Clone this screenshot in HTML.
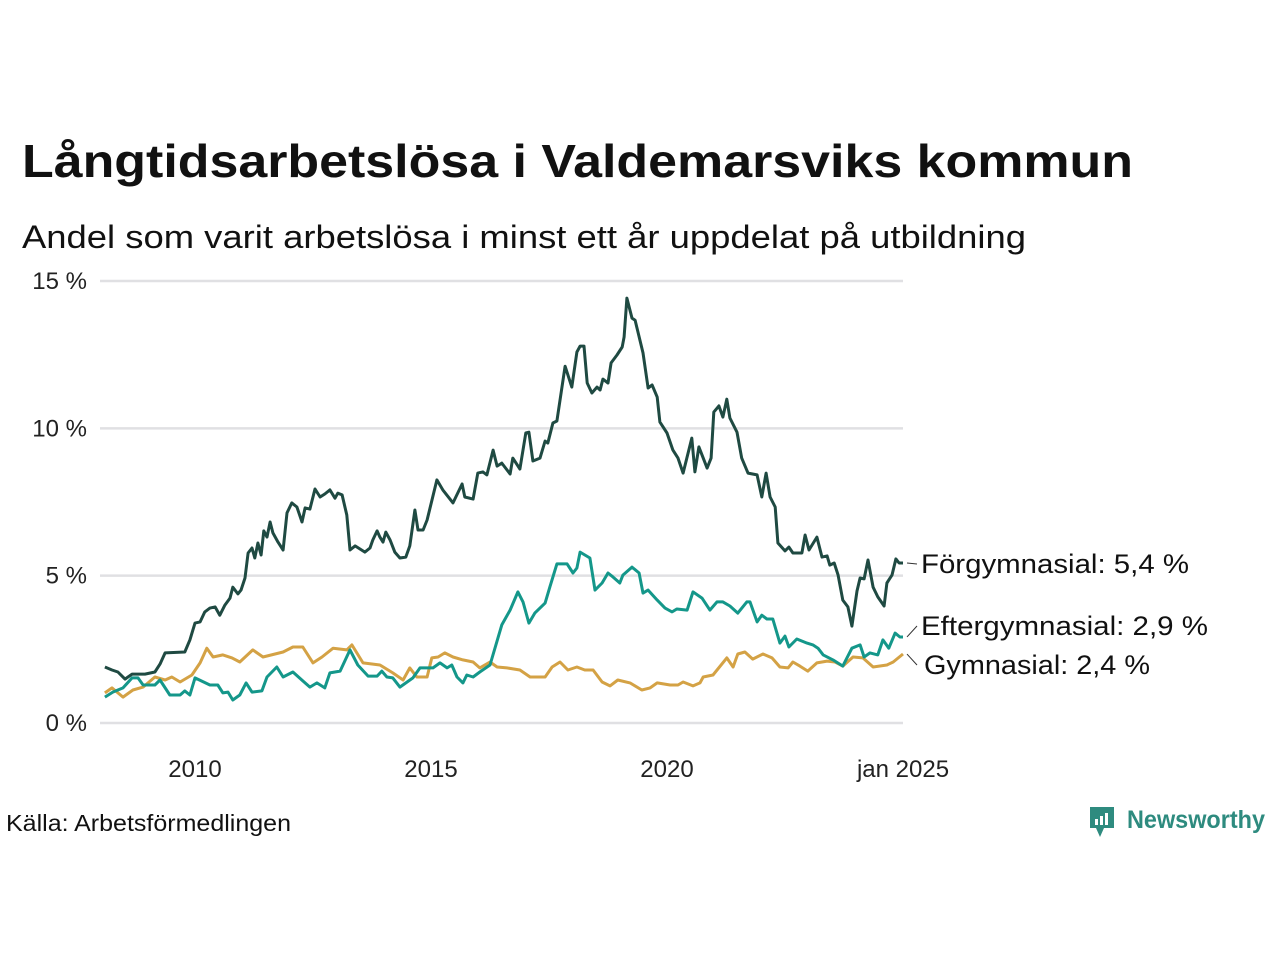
<!DOCTYPE html>
<html><head><meta charset="utf-8"><style>
html,body{margin:0;padding:0;background:#fff;}
svg{display:block;font-family:"Liberation Sans","DejaVu Sans",sans-serif;}
</style></head><body>
<svg id="chart" width="1280" height="960" viewBox="0 0 1280 960">
<text x="22" y="177" font-size="46" font-weight="bold" fill="#111" textLength="1111" lengthAdjust="spacingAndGlyphs">Långtidsarbetslösa i Valdemarsviks kommun</text>
<text x="22" y="248" font-size="32" fill="#111" textLength="1004" lengthAdjust="spacingAndGlyphs">Andel som varit arbetslösa i minst ett år uppdelat på utbildning</text>
<g id="grid"></g>
<g id="yticks"></g>
<g id="xticks"></g>
<g id="lines"></g>
<g id="labels"></g>
<text x="6" y="831" font-size="23" fill="#111" textLength="285" lengthAdjust="spacingAndGlyphs">Källa: Arbetsförmedlingen</text>
<g>
<path d="M1090 807 h24 v21 h-10 l-4 9 l-4 -9 h-6 z" fill="#2e8b7f"/>
<rect x="1095" y="819" width="3" height="6" fill="#fff"/><rect x="1100" y="816" width="3" height="9" fill="#fff"/><rect x="1105" y="813" width="3" height="12" fill="#fff"/>
<text x="1127" y="828" font-size="25" font-weight="bold" fill="#2e8b7f" textLength="138" lengthAdjust="spacingAndGlyphs">Newsworthy</text>
</g>
</svg>
<script>
const yTicks = [0, 5, 10, 15];
const yTickLabels = ["0 %", "5 %", "10 %", "15 %"];
const xTicks = [2010, 2015, 2020, 2025];
const xTickLabels = ["2010", "2015", "2020", "jan 2025"];
const seriesNames = ["Förgymnasial", "Eftergymnasial", "Gymnasial"];
const lastLabels = ["Förgymnasial: 5,4 %", "Eftergymnasial: 2,9 %", "Gymnasial: 2,4 %"];
const forMonths = [0,1.8,3.3,5.1,6.9,10.2,12.7,14,15.3,20.3,21.6,22.9,24.2,25.4,26.7,28,29.2,30.5,31.8,32.5,33.8,34.6,35.6,36.4,37.4,38.1,38.9,39.7,40.4,41.2,42,42.7,44,45.3,46.3,47.5,48.8,50.1,50.9,52.1,53.4,54.7,55.9,57.2,58.5,59.2,60.3,61.5,62.3,63.6,66.1,67.4,68.1,69.2,69.9,70.7,71.4,72.5,73.7,75,76.5,77.5,78.8,79.6,80.9,81.9,84.4,85.9,88.5,90.8,91.5,93.6,94.8,96.1,97.1,98.7,99.7,100.9,103,103.7,105.5,107,107.8,108.8,110.6,111.9,112.6,113.9,114.9,117,118.7,120,120.8,121.8,122.6,123.8,125.1,125.9,126.6,127.9,128.7,130.2,131.5,132,132.7,134,134.8,136.8,138.1,139.1,140.4,141.1,142.9,144.4,145.7,147,149.2,150,151,153.1,154.1,154.8,156.1,157.1,158.1,158.9,160.7,161.9,163.5,165.8,167,168.1,169.1,170.4,171.1,172.9,173.9,174.9,177.2,178,179,181,182.3,183.6,184.3,185.4,186.4,187.6,188.9,189.9,191.2,192,193,194,195.3,196.5,198.1,198.8,200.1,201.1,201.9,202.9];
const forValues = [1.9,1.8,1.73,1.49,1.66,1.66,1.73,2,2.38,2.41,2.82,3.39,3.43,3.77,3.9,3.94,3.66,4,4.24,4.61,4.38,4.51,4.92,5.77,5.94,5.6,6.11,5.7,6.52,6.31,6.82,6.45,6.14,5.87,7.13,7.47,7.33,6.82,7.3,7.26,7.94,7.67,7.77,7.91,7.63,7.8,7.74,7.06,5.87,6.01,5.8,5.94,6.21,6.52,6.31,6.14,6.48,6.21,5.8,5.6,5.63,6.01,7.23,6.55,6.55,6.89,8.25,7.91,7.47,8.11,7.67,7.6,8.48,8.52,8.42,9.26,8.72,8.82,8.45,8.99,8.62,9.84,9.87,8.89,8.99,9.57,9.5,10.18,10.25,12.11,11.4,12.59,12.79,12.79,11.54,11.2,11.4,11.3,11.67,11.54,12.22,12.49,12.76,13.1,14.42,13.74,13.67,12.56,11.37,11.47,11.06,10.21,9.84,9.26,8.99,8.48,9.67,8.52,9.37,8.65,8.99,10.55,10.76,10.38,10.99,10.35,9.87,8.99,8.48,8.42,7.67,8.48,7.67,7.33,6.11,5.84,5.97,5.77,5.77,6.38,5.87,6.31,5.63,5.67,5.36,5.43,5.02,4.17,3.94,3.29,4.48,4.92,4.89,5.53,4.61,4.28,3.97,4.75,5.02,5.57,5.43,5.43];
const eftMonths = [0,2,4.6,6.9,8.4,9.7,12.7,14,16.5,19.1,20.3,21.6,22.9,26.7,28.7,30,31.3,32.5,34.3,35.9,37.4,39.9,41.2,43.7,45.3,47.8,50.3,52.1,53.9,55.9,57.2,59.8,62.3,64.3,66.9,69.2,70.4,71.7,73.2,75,78.3,80.1,83.4,85.2,87,88.2,89.5,91,92,93.6,95.3,97.9,100.9,103,105,106.3,107.8,109.3,111.9,113.1,114.9,117.5,119,120,120.8,123.3,124.6,126.4,127.9,129.2,130.9,131.7,134,135.8,136.8,138.1,140.4,142.4,144.2,145.4,148,149.5,151.8,153.8,155.6,157.1,158.9,160.9,163.2,164,165.8,167,168.3,169.8,171.6,172.9,173.9,175.9,178.5,180,181.3,182.6,185.1,187.6,189.9,192,193,194.5,196.5,197.8,199.3,200.9,202.1,202.9];
const eftValues = [0.88,1.05,1.19,1.53,1.53,1.29,1.29,1.46,0.95,0.95,1.09,0.95,1.53,1.29,1.29,1.02,1.05,0.78,0.95,1.36,1.05,1.09,1.56,1.9,1.56,1.73,1.43,1.22,1.36,1.19,1.7,1.76,2.48,1.97,1.59,1.59,1.76,1.56,1.53,1.22,1.53,1.87,1.87,2.04,1.87,1.97,1.56,1.36,1.63,1.56,1.73,1.97,3.33,3.83,4.45,4.11,3.39,3.73,4.07,4.61,5.4,5.4,5.09,5.26,5.8,5.6,4.51,4.75,5.09,4.95,4.75,5.02,5.29,5.09,4.41,4.51,4.17,3.9,3.77,3.87,3.83,4.45,4.24,3.83,4.11,4.11,3.97,3.73,4.11,4.11,3.43,3.66,3.53,3.53,2.71,2.95,2.58,2.85,2.71,2.65,2.54,2.31,2.14,1.93,2.54,2.65,2.24,2.38,2.31,2.82,2.54,3.05,2.92,2.92];
const gymMonths = [0,1.8,4.6,7.1,9.7,12.7,15.3,17,19.1,22.1,24.2,25.9,27.5,30,32.3,34.3,37.6,40.2,45.3,47.8,50.3,52.9,55.2,58,61.5,62.8,65.6,69.9,73.2,75.8,77.5,79.3,81.9,83.1,84.7,86.4,88.5,91,93.6,95.3,97.9,99.7,102.2,105.5,108.1,111.9,113.7,115.7,117.7,120,122,124.1,126.4,128.4,130.4,133.5,136.5,138.6,140.4,143.7,145.7,147,149.5,151.3,152.1,154.6,158.1,159.7,160.9,162.7,164.7,167.3,169.6,171.6,173.7,174.9,176.7,178.7,181,183.6,185.6,187.6,190.2,192.7,195.3,198.8,200.4,202.9];
const gymValues = [1.02,1.19,0.88,1.12,1.22,1.56,1.46,1.56,1.39,1.63,2.04,2.54,2.24,2.31,2.21,2.07,2.48,2.24,2.41,2.58,2.58,2.04,2.24,2.54,2.48,2.65,2.04,1.97,1.7,1.46,1.87,1.56,1.56,2.21,2.24,2.38,2.24,2.14,2.07,1.87,2.07,1.9,1.87,1.8,1.56,1.56,1.9,2.07,1.8,1.9,1.8,1.8,1.39,1.26,1.46,1.36,1.12,1.19,1.36,1.29,1.29,1.39,1.26,1.36,1.56,1.63,2.21,1.9,2.34,2.41,2.17,2.34,2.21,1.9,1.87,2.07,1.93,1.76,2.04,2.1,2.07,1.93,2.24,2.21,1.9,1.97,2.07,2.34];

const NS = "http://www.w3.org/2000/svg";
const X0 = 195, X1 = 903, Y0 = 723, Y15 = 281;
function xScale(year){ return X0 + (year - 2010) * (X1 - X0) / 15; }
function yScale(v){ return Y0 - v * (Y0 - Y15) / 15; }
function monthToYear(m){ return 2008 + (m + 1.1) / 12; }

const grid = document.getElementById('grid');
const yt = document.getElementById('yticks');
yTicks.forEach((t, i) => {
  const l = document.createElementNS(NS, 'line');
  l.setAttribute('x1', 100); l.setAttribute('x2', 903);
  l.setAttribute('y1', yScale(t)); l.setAttribute('y2', yScale(t));
  l.setAttribute('stroke', '#e0e0e3'); l.setAttribute('stroke-width', 2.5);
  
  
  grid.appendChild(l);
  const tx = document.createElementNS(NS, 'text');
  tx.setAttribute('x', 87); tx.setAttribute('y', yScale(t) + 8);
  tx.setAttribute('text-anchor', 'end'); tx.setAttribute('font-size', 24); tx.setAttribute('fill', '#222');
  tx.textContent = yTickLabels[i];
  
  
  yt.appendChild(tx);
});
const xt = document.getElementById('xticks');
xTicks.forEach((t, i) => {
  const tx = document.createElementNS(NS, 'text');
  tx.setAttribute('x', xScale(t)); tx.setAttribute('y', 777);
  tx.setAttribute('text-anchor', 'middle'); tx.setAttribute('font-size', 24); tx.setAttribute('fill', '#222');
  tx.textContent = xTickLabels[i];
  
  
  xt.appendChild(tx);
});

const colors = ["#1f4a42", "#14978a", "#d4a245"];
const sets = [[forMonths, forValues], [eftMonths, eftValues], [gymMonths, gymValues]];
const lines = document.getElementById('lines');
[2, 1, 0].forEach(i => {
  const [ms, vs] = sets[i];
  const d = ms.map((m, k) => (k ? 'L' : 'M') + xScale(monthToYear(m)).toFixed(1) + ' ' + yScale(vs[k]).toFixed(1)).join(' ');
  const p = document.createElementNS(NS, 'path');
  p.setAttribute('d', d); p.setAttribute('fill', 'none');
  p.setAttribute('stroke', colors[i]); p.setAttribute('stroke-width', 3);
  p.setAttribute('stroke-linejoin', 'round');
  
  
  lines.appendChild(p);
});

const labY = [564, 626, 665];
const labW = [268, 287, 226];
const labs = document.getElementById('labels');
[0, 1, 2].forEach(i => {
  const vs = sets[i][1];
  const ly = yScale(vs[vs.length - 1]);
  const l = document.createElementNS(NS, 'line');
  l.setAttribute('x1', 907); l.setAttribute('y1', ly);
  l.setAttribute('x2', 917); l.setAttribute('y2', labY[i]);
  l.setAttribute('stroke', '#333'); l.setAttribute('stroke-width', 1);
  
  
  labs.appendChild(l);
  const tx = document.createElementNS(NS, 'text');
  tx.setAttribute('x', i === 2 ? 924 : 921); tx.setAttribute('y', labY[i] + 9);
  tx.setAttribute('font-size', 27); tx.setAttribute('fill', '#111');
  tx.setAttribute('textLength', labW[i]); tx.setAttribute('lengthAdjust', 'spacingAndGlyphs');
  tx.textContent = lastLabels[i];
  
  
  labs.appendChild(tx);
});
</script>
</body></html>
